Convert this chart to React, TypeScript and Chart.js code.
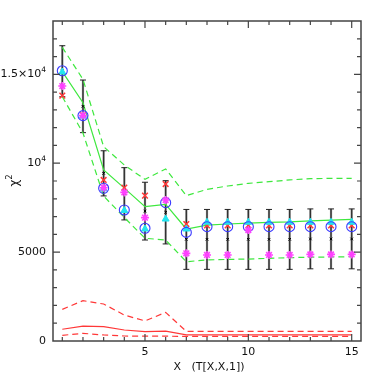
import React, { useEffect, useRef } from "react";
import { Chart, registerables } from "chart.js";
Chart.register(...registerables);

const xs = [1, 2, 3, 4, 5, 6, 7, 8, 9, 10, 11, 12, 13, 14, 15];

const blackCenter = [15200, 13200, 9430, 8280, 7310, 7240, 5720, 5720, 5720, 5720, 5720, 5720, 5740, 5740, 5740];
const errHigh = [16610, 14680, 10700, 9750, 8930, 9020, 7400, 7400, 7400, 7400, 7400, 7400, 7430, 7430, 7430];
const errLow = [13740, 11720, 8160, 6810, 5680, 5460, 4030, 4030, 4030, 4030, 4030, 4030, 4060, 4060, 4060];

const blueCircles = [15200, 12680, 8590, 7370, 6340, 7780, 6110, 6430, 6430, 6430, 6430, 6430, 6430, 6430, 6430];
const cyanTriangles = [15130, 12650, 8560, 7340, 6300, 6860, 6300, 6680, 6680, 6680, 6680, 6680, 6680, 6680, 6680];
const redCrosses = [13800, 12700, 9060, 8630, 8180, 8830, 6580, 6500, 6500, 6500, 6500, 6500, 6500, 6500, 6500];
const magentaStars = [14340, 12680, 8620, 8360, 6940, 7930, 4930, 4840, 4840, 6240, 4840, 4840, 4870, 4870, 4870];

const greenMid = [15150, 13400, 9620, 8600, 7560, 7690, 6300, 6520, 6580, 6630, 6670, 6700, 6760, 6800, 6840];
const greenUp = [16520, 14720, 10930, 9900, 9090, 9680, 8180, 8530, 8720, 8870, 8960, 9060, 9130, 9150, 9150];
const greenLow = [13740, 11700, 8150, 6950, 5780, 5680, 4460, 4560, 4590, 4610, 4650, 4690, 4710, 4730, 4740];

const redUp = [1780, 2270, 2080, 1460, 1130, 1610, 540, 540, 540, 540, 540, 540, 540, 540, 540];
const redMid = [660, 840, 810, 620, 530, 560, 340, 340, 340, 340, 340, 340, 340, 340, 340];
const redLow = [320, 430, 340, 280, 270, 270, 260, 260, 260, 260, 260, 260, 260, 260, 260];

const xTickLabels = [
  { v: 5, t: "5" },
  { v: 10, t: "10" },
  { v: 15, t: "15" },
];
const yTickLabels = [
  { v: 0, t: "0", sup: "" },
  { v: 5000, t: "5000", sup: "" },
  { v: 10000, t: "10", sup: "4" },
  { v: 15000, t: "1.5×10", sup: "4" },
];

const pts = (arr: number[]) => xs.map((x, i) => ({ x, y: arr[i] }));

const GREEN = "#3ee83e";
const RED = "#ff3838";
const FONT = "DejaVu Sans";

const framePlugin = {
  id: "framePlugin",
  beforeDatasetsDraw(chart: any) {
    const ctx = chart.ctx;
    const xS = chart.scales.x;
    const yS = chart.scales.y;
    ctx.save();
    xs.forEach((x, i) => {
      const px = xS.getPixelForValue(x);
      const pt = yS.getPixelForValue(errHigh[i]);
      const pb = yS.getPixelForValue(errLow[i]);
      ctx.strokeStyle = "#8a8a8a";
      ctx.lineWidth = 2.2;
      ctx.beginPath();
      ctx.moveTo(px, pt);
      ctx.lineTo(px, pb);
      ctx.stroke();
      ctx.strokeStyle = "#222";
      ctx.lineWidth = 1;
      ctx.beginPath();
      ctx.moveTo(px, pt);
      ctx.lineTo(px, pb);
      ctx.moveTo(px - 3, pt);
      ctx.lineTo(px + 3, pt);
      ctx.moveTo(px - 3, pb);
      ctx.lineTo(px + 3, pb);
      ctx.stroke();
    });
    ctx.restore();
  },
  afterDraw(chart: any) {
    const ctx = chart.ctx;
    const a = chart.chartArea;
    const xS = chart.scales.x;
    const yS = chart.scales.y;
    ctx.save();
    ctx.strokeStyle = "#444";
    ctx.lineWidth = 1.5;
    ctx.strokeRect(a.left, a.top, a.right - a.left, a.bottom - a.top);
    ctx.lineWidth = 1.2;
    ctx.beginPath();
    for (let v = 1; v <= 15; v++) {
      const px = xS.getPixelForValue(v);
      const len = v % 5 === 0 ? 7 : 4;
      ctx.moveTo(px, a.bottom);
      ctx.lineTo(px, a.bottom - len);
      ctx.moveTo(px, a.top);
      ctx.lineTo(px, a.top + len);
    }
    for (let v = 1000; v < 18000; v += 1000) {
      const py = yS.getPixelForValue(v);
      const len = v % 5000 === 0 ? 7 : 4;
      ctx.moveTo(a.left, py);
      ctx.lineTo(a.left + len, py);
      ctx.moveTo(a.right, py);
      ctx.lineTo(a.right - len, py);
    }
    ctx.stroke();

    ctx.fillStyle = "#111";
    ctx.font = `11px "${FONT}"`;
    ctx.textBaseline = "middle";
    ctx.textAlign = "center";
    xTickLabels.forEach((t) => {
      ctx.fillText(t.t, xS.getPixelForValue(t.v), a.bottom + 11);
    });
    yTickLabels.forEach((t) => {
      const py = yS.getPixelForValue(t.v);
      const right = a.left - 7;
      if (t.sup) {
        ctx.font = `7.5px "${FONT}"`;
        ctx.textAlign = "right";
        const sw = ctx.measureText(t.sup).width;
        ctx.fillText(t.sup, right, py - 4);
        ctx.font = `11px "${FONT}"`;
        ctx.fillText(t.t, right - sw, py);
      } else {
        ctx.font = `11px "${FONT}"`;
        ctx.textAlign = "right";
        ctx.fillText(t.t, right, py);
      }
    });
    ctx.font = `11px "${FONT}"`;
    ctx.textAlign = "center";
    ctx.fillText("X   (T[X,X,1])", (a.left + a.right) / 2 + 2, a.bottom + 26);
    ctx.translate(15, (a.top + a.bottom) / 2 + 2);
    ctx.rotate(-Math.PI / 2);
    ctx.font = `12px "${FONT}"`;
    ctx.fillText("χ", 0, 0);
    ctx.font = `8px "${FONT}"`;
    ctx.fillText("2", 6, -5);
    ctx.restore();
  },
};

export default function App() {
  const ref = useRef<HTMLCanvasElement>(null);
  useEffect(() => {
    if (!ref.current) return;
    const lineDs = (data: number[], color: string, dashed: boolean) => ({
      type: "line" as const,
      data: pts(data),
      borderColor: color,
      borderWidth: 1.2,
      borderDash: dashed ? [6, 4] : [],
      pointRadius: 0,
      showLine: true,
      fill: false,
      tension: 0,
      order: 10,
    });
    const chart = new Chart(ref.current, {
      type: "scatter",
      data: {
        datasets: [
          lineDs(greenUp, GREEN, true),
          lineDs(greenMid, GREEN, false),
          lineDs(greenLow, GREEN, true),
          lineDs(redUp, RED, true),
          lineDs(redMid, RED, false),
          lineDs(redLow, RED, true),
          {
            data: pts(blackCenter),
            pointStyle: "crossRot",
            pointRadius: 1.8,
            borderColor: "#000",
            borderWidth: 1,
            order: 6,
          },
          {
            data: pts(redCrosses),
            pointStyle: "crossRot",
            pointRadius: 4,
            borderColor: RED,
            borderWidth: 1.5,
            order: 5,
          },
          {
            data: pts(cyanTriangles),
            pointStyle: "triangle",
            pointRadius: 4,
            backgroundColor: "#22e5f0",
            borderColor: "#22e5f0",
            borderWidth: 1,
            order: 4,
          },
          {
            data: pts(blueCircles),
            pointStyle: "circle",
            pointRadius: 5,
            backgroundColor: "rgba(0,0,0,0)",
            borderColor: "#3a3aff",
            borderWidth: 1.1,
            order: 3,
          },
          {
            data: pts(magentaStars),
            pointStyle: "star",
            pointRadius: 4,
            borderColor: "#ff40ff",
            borderWidth: 1.6,
            order: 2,
          },
        ] as any,
      },
      options: {
        animation: false,
        responsive: false,
        maintainAspectRatio: false,
        layout: { padding: { left: 53, right: 21, top: 21, bottom: 41 } },
        plugins: { legend: { display: false }, tooltip: { enabled: false } },
        events: [],
        scales: {
          x: { type: "linear", min: 0.55, max: 15.45, display: false },
          y: { type: "linear", min: 0, max: 18000, display: false },
        },
      },
      plugins: [framePlugin],
    });
    return () => chart.destroy();
  }, []);
  return (
    <div style={{ position: "fixed", left: 0, top: 0, width: 382, height: 382, background: "#fff" }}>
      <canvas ref={ref} width={382} height={382} style={{ width: 382, height: 382 }} />
    </div>
  );
}
